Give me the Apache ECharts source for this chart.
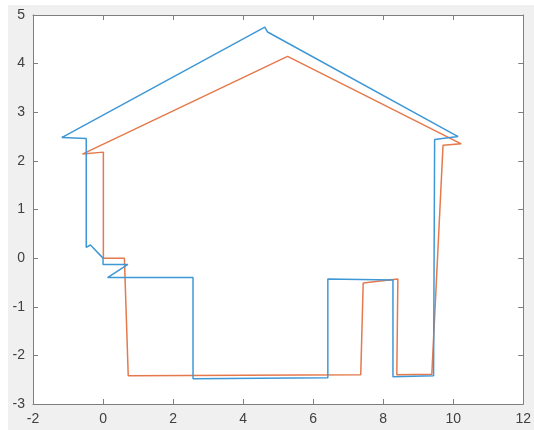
<!DOCTYPE html>
<html>
<head>
<meta charset="utf-8">
<script src="https://cdn.jsdelivr.net/npm/echarts@6/dist/echarts.min.js"></script>
<style>
html,body{margin:0;padding:0;background:#fff;}
#wrap{position:relative;width:534px;height:430px;background:#fff;overflow:hidden;}
#chart{position:absolute;left:8px;top:5px;width:526px;height:425px;}
</style>
</head>
<body>
<div id="wrap"><div id="chart"></div></div>
<script>
// Blue outline (x, y)
const blueX = [-1.18, -0.48, -0.48, -0.36, 0.00, 0.00, 0.71, 0.13, 2.57, 2.57, 6.42, 6.42, 8.28, 8.28, 9.44, 9.47, 10.14, 4.70, 4.62, -1.18];
const blueY = [2.48, 2.46, 0.22, 0.27, 0.00, -0.13, -0.13, -0.40, -0.40, -2.48, -2.46, -0.43, -0.45, -2.44, -2.42, 2.44, 2.50, 4.65, 4.75, 2.48];
// Orange outline (x, y)
const orangeX = [-0.59, 0.01, 0.01, 0.61, 0.72, 7.36, 7.43, 8.42, 8.39, 9.39, 9.71, 10.23, 5.27, -0.59];
const orangeY = [2.14, 2.18, 0.00, 0.00, -2.42, -2.40, -0.51, -0.43, -2.40, -2.39, 2.32, 2.35, 4.15, 2.14];
const xTicks = [-2, 0, 2, 4, 6, 8, 10, 12];
const yTicks = [-3, -2, -1, 0, 1, 2, 3, 4, 5];

const pairs = (xs, ys) => xs.map((x, i) => [x, ys[i]]);
const chart = echarts.init(document.getElementById('chart'));
const axisLine = {show: true, onZero: false, lineStyle: {color: '#7f7f7f', width: 1}};
const tick = {show: true, inside: true, length: 5, lineStyle: {color: '#7f7f7f'}};
const lbl = {color: '#404040', fontSize: 14, fontFamily: 'Liberation Sans, Arial, sans-serif'};
chart.setOption({
  backgroundColor: '#f0f0f0',
  animation: false,
  grid: {left: 25, right: 7, top: 10, bottom: 26, show: true, backgroundColor: '#ffffff', borderWidth: 0},
  xAxis: [
    {type: 'value', min: xTicks[0], max: xTicks[xTicks.length-1], interval: 2, position: 'bottom',
     axisLine, axisTick: tick, splitLine: {show: false}, axisLabel: Object.assign({margin: 8}, lbl)},
    {type: 'value', min: xTicks[0], max: xTicks[xTicks.length-1], interval: 2, position: 'top',
     axisLine, axisTick: tick, splitLine: {show: false}, axisLabel: {show: false}}
  ],
  yAxis: [
    {type: 'value', min: yTicks[0], max: yTicks[yTicks.length-1], interval: 1, position: 'left',
     axisLine, axisTick: tick, splitLine: {show: false}, axisLabel: Object.assign({margin: 8}, lbl)},
    {type: 'value', min: yTicks[0], max: yTicks[yTicks.length-1], interval: 1, position: 'right',
     axisLine, axisTick: tick, splitLine: {show: false}, axisLabel: {show: false}}
  ],
  series: [
    {type: 'line', data: pairs(blueX, blueY), showSymbol: false, symbol: 'none',
     lineStyle: {color: '#3f98d6', width: 1.5}, z: 3},
    {type: 'line', data: pairs(orangeX, orangeY), showSymbol: false, symbol: 'none',
     lineStyle: {color: '#e5794c', width: 1.5}, z: 2}
  ]
});
</script>
</body>
</html>
